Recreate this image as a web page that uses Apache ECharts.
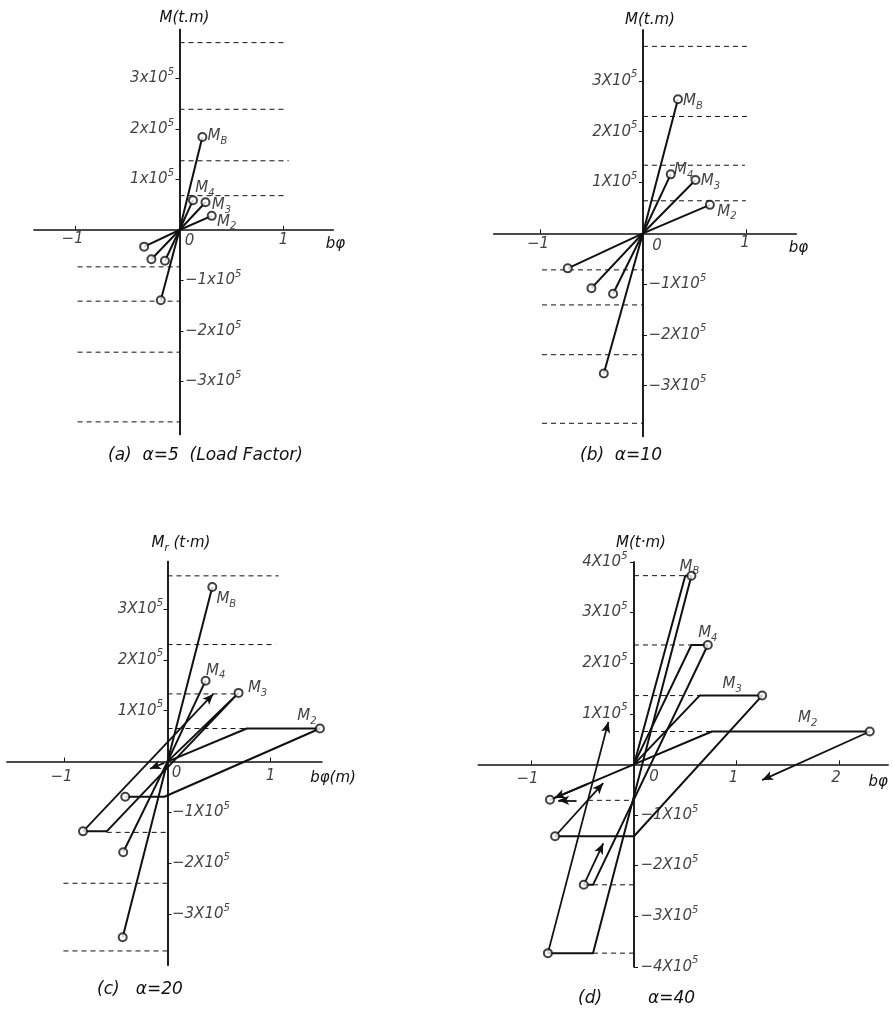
<!DOCTYPE html>
<html><head><meta charset="utf-8">
<script src="https://cdn.jsdelivr.net/npm/echarts@6/dist/echarts.min.js"></script>
<style>html,body{margin:0;padding:0;background:#fff}#c{width:893px;height:1012px}</style>
</head><body><div id="c"></div>
<script>
// ================= DATA =================
// tick values / labels
const xTickValues = [-1, 0, 1];
const xTickValuesD = [-1, 0, 1, 2];
const yTickPos = [1, 2, 3];
const yTickNeg = [-1, -2, -3];
const yTickPosD = [1, 2, 3, 4];
const yTickNegD = [-1, -2, -3, -4];
const yTickExponent = '5';
const panelTitles = ['(a)  α=5  (Load Factor)', '(b)  α=10', '(c)   α=20', '(d)', 'α=40'];
const yAxisNames = ['M(t.m)', 'M(t.m)', 'M_r (t·m)', 'M(t·m)'];
const xAxisNames = ['bφ', 'bφ', 'bφ(m)', 'bφ'];

// Panel (a) alpha = 5   points [bφ, M / 1e5]
const a_MB = [[-0.18, -1.39], [0, 0], [0.22, 1.84]];
const a_M4 = [[-0.14, -0.61], [0, 0], [0.13, 0.59]];
const a_M3 = [[-0.27, -0.58], [0, 0], [0.25, 0.55]];
const a_M2 = [[-0.34, -0.33], [0, 0], [0.31, 0.28]];
// dashed levels [M, bφ from, bφ to]
const a_levels = [[3.71, 0, 1.0], [2.39, 0, 1.0], [1.37, 0, 1.05], [0.68, 0, 1.0],
                  [-0.73, -0.98, 0], [-1.41, -0.98, 0], [-2.42, -0.98, 0], [-3.80, -0.98, 0]];

// Panel (b) alpha = 10
const b_MB = [[-0.38, -2.76], [0, 0], [0.34, 2.64]];
const b_M4 = [[-0.29, -1.19], [0, 0], [0.27, 1.16]];
const b_M3 = [[-0.50, -1.08], [0, 0], [0.51, 1.05]];
const b_M2 = [[-0.73, -0.69], [0, 0], [0.65, 0.56]];
const b_levels = [[3.68, 0, 1.02], [2.30, 0, 1.03], [1.34, 0, 0.99], [0.64, 0, 1.0],
                  [-0.72, -0.98, 0], [-1.41, -0.98, 0], [-2.39, -0.98, 0], [-3.74, -0.98, 0]];

// Panel (c) alpha = 20
const c_MB = [[-0.435, -3.45], [0, 0], [0.435, 3.43]];
const c_M4 = [[-0.43, -1.78], [0, 0], [0.37, 1.59]];
const c_M3 = [[0, 0], [0.69, 1.35], [-0.59, -1.37], [-0.82, -1.37]];
const c_M2 = [[0, 0], [0.77, 0.65], [1.48, 0.65], [-0.03, -0.69], [-0.41, -0.69]];
const c_levels = [[3.65, 0, 1.08], [2.30, 0, 1.05], [1.33, 0, 0.67], [0.65, 0, 0.77],
                  [-1.39, -0.59, 0], [-2.39, -1.01, 0], [-3.72, -1.01, 0]];
const c_arrows = [[[-0.82, -1.37], [0.445, 1.33]], [[-0.03, -0.025], [-0.17, -0.14]]];

// Panel (d) alpha = 40
const d_MB = [[0, 0], [0.50, 3.73], [0.56, 3.73], [-0.40, -3.73], [-0.84, -3.73]];
const d_M4 = [[0, 0], [0.56, 2.36], [0.72, 2.36], [-0.40, -2.38], [-0.49, -2.38]];
const d_M3 = [[0, 0], [0.64, 1.36], [1.25, 1.36], [0, -1.42], [-0.77, -1.42]];
const d_M2 = [[-0.82, -0.70], [0, 0], [0.76, 0.65], [2.30, 0.65]];
const d_levels = [[3.73, 0, 0.50], [2.36, 0, 0.56], [1.36, 0, 0.64], [0.65, 0, 0.76],
                  [-0.71, -0.45, 0], [-2.38, -0.40, 0], [-3.73, -0.40, 0]];
const d_arrows = [[[-0.84, -3.73], [-0.25, 0.84]], [[-0.49, -2.38], [-0.30, -1.56]],
                  [[-0.77, -1.42], [-0.30, -0.37]], [[2.30, 0.65], [1.25, -0.31]],
                  [[-0.45, -0.385], [-0.78, -0.665]], [[-0.56, -0.71], [-0.74, -0.71]]];

// ================= STYLE / LAYOUT =================
const FONT = 'DejaVu Sans';
const BLACK = '#111';
const txt = (size) => ({ fontFamily: FONT, fontStyle: 'italic', fontWeight: 'normal', fontSize: size, color: BLACK });

const panels = [
  { grid: [33.9, 29.5, 299.5, 405], xr: [-1.40, 1.48], yr: [-4.05, 3.97], mult: 'x', xt: xTickValues, yp: yTickPos, yn: yTickNeg,
    xl: { neg: [-3, 9], pos: [0, 10], zero: [10, 11] }, yDist: 5,
    xNameGap: 2, xNamePad: 7, yNameGap: 1, yNamePad: 10,
    curves: [
      { n: 'B', d: a_MB, m: [0, 2], l: 2, off: [15, -1] },
      { n: '4', d: a_M4, m: [0, 2], l: 2, off: [12, -12] },
      { n: '3', d: a_M3, m: [0, 2], l: 2, off: [16, 3] },
      { n: '2', d: a_M2, m: [0, 2], l: 2, off: [15, 6] }],
    levels: a_levels, arrows: [] },
  { grid: [493.6, 30.1, 302.8, 406.4], xr: [-1.45, 1.49], yr: [-4, 4], mult: 'X', xt: xTickValues, yp: yTickPos, yn: yTickNeg,
    xl: { neg: [-2, 11], pos: [-1, 10], zero: [14, 13] }, yDist: 5,
    xNameGap: 2, xNamePad: 7, yNameGap: 0, yNamePad: 14,
    curves: [
      { n: 'B', d: b_MB, m: [0, 2], l: 2, off: [15, 2] },
      { n: '4', d: b_M4, m: [0, 2], l: 2, off: [13, -4] },
      { n: '3', d: b_M3, m: [0, 2], l: 2, off: [15, 1] },
      { n: '2', d: b_M2, m: [0, 2], l: 2, off: [17, 7] }],
    levels: b_levels, arrows: [] },
  { grid: [6.8, 561.6, 315.2, 403.6], xr: [-1.56, 1.50], yr: [-4, 3.93], mult: 'X', xt: xTickValues, yp: yTickPos, yn: yTickNeg,
    xl: { neg: [-3, 15], pos: [0, 14], zero: [9, 11] }, yDist: 4,
    xNameGap: 11, xNamePad: 9, yNameGap: 8, yNamePad: 27,
    curves: [
      { n: 'B', d: c_MB, m: [0, 2], l: 2, off: [14, 12] },
      { n: '4', d: c_M4, m: [0, 2], l: 2, off: [10, -10] },
      { n: '3', d: c_M3, m: [1, 3], l: 1, off: [19, -5] },
      { n: '2', d: c_M2, m: [2, 4], l: 2, off: [-13, -12] }],
    levels: c_levels, arrows: c_arrows },
  { grid: [478.2, 562, 410, 404.8], xr: [-1.52, 2.48], yr: [-4, 4], mult: 'X', xt: xTickValuesD, yp: yTickPosD, yn: yTickNegD,
    xl: { neg: [-4, 15], pos: [-3, 14], zero: [20, 13] }, yDist: 6,
    xNameGap: -10, xNamePad: 10, yNameGap: 9, yNamePad: 14,
    curves: [
      { n: 'B', d: d_MB, m: [2, 4], l: 2, off: [-2, -9] },
      { n: '4', d: d_M4, m: [2, 4], l: 2, off: [0, -12] },
      { n: '3', d: d_M3, m: [2, 4], l: 2, off: [-30, -11] },
      { n: '2', d: d_M2, m: [0, 3], l: 3, off: [-62, -13] }],
    levels: d_levels, arrows: d_arrows }
];

const yRich = {
  n: Object.assign(txt(15), { lineHeight: 22 }),
  s: Object.assign(txt(10), { verticalAlign: 'top', lineHeight: 12 })
};
const subRich = {
  n: Object.assign(txt(15), { lineHeight: 20 }),
  u: Object.assign(txt(10), { verticalAlign: 'bottom', lineHeight: 12 })
};
function nameRich(name) {
  const m = name.match(/^M_(\w)(.*)$/);
  return m ? `{n|M}{u|${m[1]}}{n|${m[2]}}` : `{n|${name}}`;
}
const fmtNum = v => (v < 0 ? '−' + (-v) : String(v));

const grids = [], xAxes = [], yAxes = [], series = [];
const hidden = { color: 'rgba(0,0,0,0)' };
panels.forEach((p, i) => {
  grids.push({ left: p.grid[0], top: p.grid[1], width: p.grid[2], height: p.grid[3], containLabel: false, outerBoundsMode: 'none' });
  const axisLine = (idx) => ({ onZero: true, onZeroAxisIndex: idx, lineStyle: { color: BLACK, width: 1.5 } });
  xAxes.push({
    gridIndex: i, type: 'value', min: p.xr[0], max: p.xr[1], position: 'bottom',
    axisLine: axisLine(2 * i),
    axisTick: { show: true, customValues: p.xt.filter(v => v !== 0), inside: true, length: 4, lineStyle: { color: BLACK, width: 1 } },
    axisLabel: { show: false },
    splitLine: { show: false },
    name: xAxisNames[i], nameLocation: 'end', nameGap: p.xNameGap,
    nameTextStyle: Object.assign(txt(15), { align: 'center', verticalAlign: 'top', padding: [p.xNamePad, 0, 0, 0] })
  });
  yAxes.push({
    gridIndex: i, type: 'value', min: p.yr[0], max: p.yr[1], position: 'left',
    axisLine: axisLine(i),
    axisTick: { show: true, customValues: p.yp, length: 4, lineStyle: { color: BLACK, width: 1 } },
    axisLabel: { show: false },
    splitLine: { show: false },
    name: nameRich(yAxisNames[i]), nameLocation: 'end', nameGap: p.yNameGap,
    nameTextStyle: { align: 'center', verticalAlign: 'bottom', padding: [0, 0, 0, p.yNamePad], rich: subRich }
  });
  yAxes.push({
    gridIndex: i, type: 'value', min: p.yr[0], max: p.yr[1], position: 'right',
    axisLine: axisLine(i),
    axisTick: { show: true, customValues: p.yn, length: 4, lineStyle: { color: BLACK, width: 1 } },
    axisLabel: { show: false },
    splitLine: { show: false }
  });

  // tick labels placed at the tick values through the axes' scales
  series.push({ type: 'scatter', xAxisIndex: i, yAxisIndex: 2 * i, silent: true, animation: false, z: 6,
    symbol: 'circle', symbolSize: 1, itemStyle: hidden,
    data: p.xt.map(v => ({ value: [v, 0],
      label: { show: true, position: 'inside', offset: v === 0 ? p.xl.zero : (v < 0 ? p.xl.neg : p.xl.pos),
        formatter: fmtNum(v), ...txt(15) } })) });
  series.push({ type: 'scatter', xAxisIndex: i, yAxisIndex: 2 * i, silent: true, animation: false, z: 6,
    symbol: 'circle', symbolSize: 1, itemStyle: hidden,
    data: p.yp.concat(p.yn).map(v => ({ value: [0, v],
      label: { show: true, position: v > 0 ? 'left' : 'right', distance: p.yDist,
        formatter: `{n|${fmtNum(v)}${p.mult}10}{s|${yTickExponent}}`, rich: yRich, color: BLACK } })) });

  // dashed levels
  p.levels.forEach(lv => {
    series.push({ type: 'line', xAxisIndex: i, yAxisIndex: 2 * i, data: [[lv[1], lv[0]], [lv[2], lv[0]]],
      symbol: 'none', silent: true, animation: false, z: 2,
      lineStyle: { color: BLACK, width: 1, type: [5, 4] } });
  });
  // curves
  p.curves.forEach((c, ci) => {
    const s = { type: 'line', xAxisIndex: i, yAxisIndex: 2 * i, data: c.d, symbol: 'none', silent: true,
      animation: false, z: 3, clip: false, lineStyle: { color: BLACK, width: 2 } };
    if (ci === 0 && p.arrows.length) {
      s.markLine = { silent: true, animation: false, symbol: ['none', 'arrow'], symbolSize: [7, 11],
        label: { show: false }, lineStyle: { color: BLACK, width: 1.8, type: 'solid' },
        data: p.arrows.map(a => [{ coord: a[0] }, { coord: a[1] }]) };
    }
    series.push(s);
    series.push({ type: 'scatter', xAxisIndex: i, yAxisIndex: 2 * i, silent: true, animation: false, z: 5,
      symbol: 'emptyCircle', symbolSize: 8, itemStyle: { color: BLACK, borderWidth: 1.5 },
      data: c.m.map(k => ({ value: c.d[k],
        label: { show: k === c.l, position: 'inside', offset: c.off, color: BLACK,
          formatter: `{n|M}{u|${c.n}}`, rich: subRich } })) });
  });
});

const titlePos = [[108, 447], [580, 447], [97, 981], [578, 990], [648, 990]];
const titles = panelTitles.map((t, k) => ({ text: t, left: titlePos[k][0], top: titlePos[k][1], padding: 0,
  textStyle: txt(17) }));

const chart = echarts.init(document.getElementById('c'), null, { renderer: 'canvas', width: 893, height: 1012 });
chart.setOption({ backgroundColor: '#fff', animation: false, title: titles, grid: grids, xAxis: xAxes, yAxis: yAxes, series: series });
</script>
</body></html>
